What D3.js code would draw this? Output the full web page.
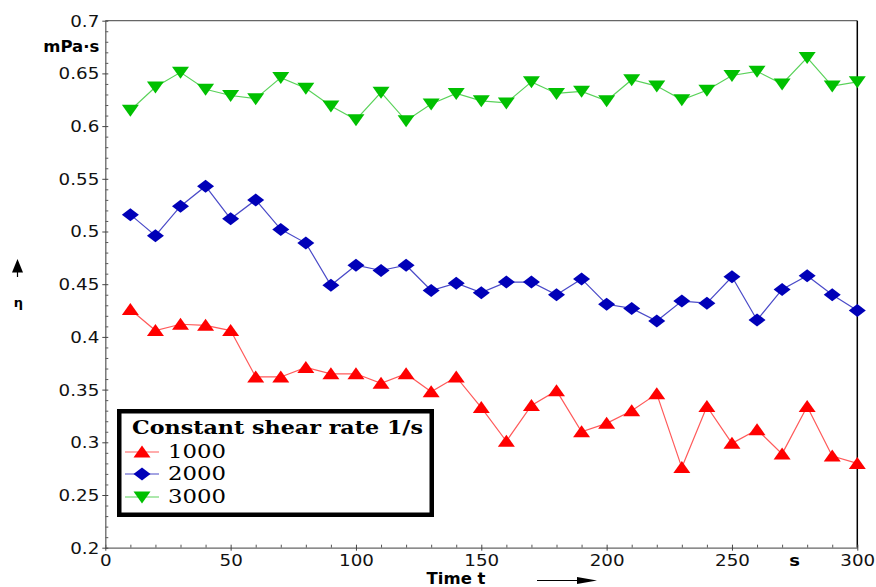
<!DOCTYPE html>
<html>
<head>
<meta charset="utf-8">
<script src="https://cdn.jsdelivr.net/npm/d3@7"></script>
<style>
  body { margin: 0; background: #fff; }
  svg { display: block; }
  .tick text { font-family: "DejaVu Sans", sans-serif; font-size: 15px; fill: #111; }
</style>
</head>
<body>
<div id="chart"></div>
<script>
// time values (s) and viscosity values (mPa·s)
const times = [10, 20, 30, 40, 50, 60, 70, 80, 90, 100, 110, 120, 130, 140, 150,
               160, 170, 180, 190, 200, 210, 220, 230, 240, 250, 260, 270, 280, 290, 300];
const rate1000 = [0.426, 0.406, 0.412, 0.411, 0.406, 0.362, 0.362, 0.371, 0.365, 0.365,
                  0.356, 0.365, 0.348, 0.362, 0.333, 0.301, 0.335, 0.349, 0.310, 0.318,
                  0.330, 0.346, 0.276, 0.334, 0.299, 0.312, 0.289, 0.334, 0.287, 0.280];
const rate2000 = [0.516, 0.496, 0.524, 0.543, 0.512, 0.530, 0.502, 0.489, 0.449, 0.468,
                  0.463, 0.468, 0.444, 0.451, 0.442, 0.452, 0.452, 0.440, 0.455, 0.431,
                  0.427, 0.415, 0.434, 0.432, 0.457, 0.416, 0.445, 0.458, 0.440, 0.425];
const rate3000 = [0.615, 0.637, 0.651, 0.635, 0.629, 0.626, 0.646, 0.636, 0.619, 0.606,
                  0.632, 0.605, 0.621, 0.631, 0.624, 0.622, 0.642, 0.631, 0.633, 0.624,
                  0.644, 0.638, 0.625, 0.634, 0.648, 0.652, 0.640, 0.665, 0.638, 0.642];
const seriesNames = ["1000", "2000", "3000"];
const xTicks = [0, 50, 100, 150, 200, 250, 300];
const yTicks = [0.2, 0.25, 0.3, 0.35, 0.4, 0.45, 0.5, 0.55, 0.6, 0.65, 0.7];
const yTickLabels = ["0.2", "0.25", "0.3", "0.35", "0.4", "0.45", "0.5", "0.55", "0.6", "0.65", "0.7"];

const W = 876, H = 587;
const margin = {top: 20.7, right: 18.7, bottom: 39.3, left: 105.3};

const svg = d3.select("#chart").append("svg")
    .attr("width", W)
    .attr("height", H);

const x = d3.scaleLinear().domain([0, 300]).range([margin.left, W - margin.right]);
const y = d3.scaleLinear().domain([0.2, 0.7]).range([H - margin.bottom, margin.top]);

const stretch = 1.22;

// frame: top grey, right black
svg.append("line")
    .attr("x1", x(0)).attr("x2", x(300))
    .attr("y1", y(0.7)).attr("y2", y(0.7))
    .attr("stroke", "#666").attr("stroke-width", 1.3);
svg.append("line")
    .attr("x1", x(300)).attr("x2", x(300))
    .attr("y1", y(0.7)).attr("y2", y(0.2))
    .attr("stroke", "#000").attr("stroke-width", 1.5);

// minor ticks
const xMinor = d3.range(0, 301, 10).filter(d => d % 50 !== 0);
const yMinor = d3.range(20, 71, 1).map(d => d / 100).filter(d => Math.round(d * 100) % 5 !== 0);

svg.append("g")
    .attr("transform", `translate(0,${y(0.2)})`)
    .call(d3.axisBottom(x).tickValues(xMinor).tickSize(-3).tickFormat(""))
    .call(g => g.select(".domain").remove())
    .selectAll("line").attr("stroke", "#555");

svg.append("g")
    .attr("transform", `translate(${x(0)},0)`)
    .call(d3.axisLeft(y).tickValues(yMinor).tickSize(-3).tickFormat(""))
    .call(g => g.select(".domain").remove())
    .selectAll("line").attr("stroke", "#555");

// major axes
const xAxis = svg.append("g")
    .attr("transform", `translate(0,${y(0.2)})`)
    .call(d3.axisBottom(x).tickValues(xTicks).tickSizeOuter(0));
xAxis.select(".domain").attr("stroke", "#666").attr("stroke-width", 1.3);
xAxis.selectAll(".tick line").attr("y1", -3).attr("y2", 3).attr("stroke", "#444");
xAxis.selectAll(".tick text")
    .attr("y", 18).attr("dy", null)
    .attr("transform", `scale(${stretch},1)`);

const yAxis = svg.append("g")
    .attr("transform", `translate(${x(0)},0)`)
    .call(d3.axisLeft(y).tickValues(yTicks).tickSizeOuter(0)
        .tickFormat((d, i) => yTickLabels[i]));
yAxis.select(".domain").attr("stroke", "#666").attr("stroke-width", 1.3);
yAxis.selectAll(".tick line").attr("x1", -3).attr("x2", 3).attr("stroke", "#444");
yAxis.selectAll(".tick text")
    .attr("x", -6 / stretch).attr("dy", "0.36em")
    .attr("transform", `scale(${stretch},1)`);

// unit labels
svg.append("text")
    .attr("transform", `translate(${x(0) - 6},${y(0.675) + 5}) scale(1.1,1)`)
    .attr("text-anchor", "end")
    .style("font-family", "DejaVu Sans, sans-serif")
    .style("font-size", "15px").style("font-weight", "bold")
    .text("mPa·s");
svg.append("text")
    .attr("transform", `translate(${x(275)},${y(0.2) + 18}) scale(1.2,1)`)
    .attr("text-anchor", "middle")
    .style("font-family", "DejaVu Sans, sans-serif")
    .style("font-size", "15px").style("font-weight", "bold")
    .text("s");

// axis titles with arrows
svg.append("text")
    .attr("transform", `translate(456,584) scale(1.1,1)`)
    .attr("text-anchor", "middle")
    .style("font-family", "DejaVu Sans, sans-serif")
    .style("font-size", "15px").style("font-weight", "bold")
    .text("Time t");
svg.append("line")
    .attr("x1", 537).attr("x2", 580).attr("y1", 580.5).attr("y2", 580.5)
    .attr("stroke", "#000").attr("stroke-width", 1.2);
svg.append("path")
    .attr("d", "M577,577 L597,580.5 L577,584 Z")
    .attr("fill", "#000");

svg.append("text")
    .attr("x", 18.5).attr("y", 307)
    .attr("text-anchor", "middle")
    .style("font-family", "DejaVu Sans, sans-serif")
    .style("font-size", "13px").style("font-weight", "bold")
    .text("η");
svg.append("line")
    .attr("x1", 17.5).attr("x2", 17.5).attr("y1", 270).attr("y2", 277)
    .attr("stroke", "#000").attr("stroke-width", 1.2);
svg.append("path")
    .attr("d", "M17.5,259 L23,272.5 L12,272.5 Z")
    .attr("fill", "#000");

// marker shapes
const triUp = "M0,-6.5 L8.5,5.5 L-8.5,5.5 Z";
const triDown = "M0,6.5 L8.5,-5.5 L-8.5,-5.5 Z";
const diamond = "M0,-6.5 L8.5,0 L0,6.5 L-8.5,0 Z";

const series = [
  {name: seriesNames[0], values: rate1000, line: "#ff5a5a", fill: "#ff0000", shape: triUp},
  {name: seriesNames[1], values: rate2000, line: "#4a4ac8", fill: "#0000b8", shape: diamond},
  {name: seriesNames[2], values: rate3000, line: "#5ad25a", fill: "#00c000", shape: triDown}
];

const line = d3.line()
    .x((d, i) => x(times[i]))
    .y(d => y(d));

series.forEach(s => {
  svg.append("path")
      .datum(s.values)
      .attr("fill", "none")
      .attr("stroke", s.line)
      .attr("stroke-width", 1.2)
      .attr("d", line);
  svg.append("g").selectAll("path")
      .data(s.values)
      .join("path")
      .attr("d", s.shape)
      .attr("transform", (d, i) => `translate(${x(times[i])},${y(d)})`)
      .attr("fill", s.fill);
});

// legend
const legend = svg.append("g");
legend.append("rect")
    .attr("x", 119.25).attr("y", 411.25)
    .attr("width", 312.5).attr("height", 103.5)
    .attr("fill", "#fff")
    .attr("stroke", "#000").attr("stroke-width", 4.5);
legend.append("text")
    .attr("x", 132).attr("y", 434)
    .attr("textLength", 291).attr("lengthAdjust", "spacingAndGlyphs")
    .style("font-family", "DejaVu Serif, serif")
    .style("font-size", "18px").style("font-weight", "bold")
    .text("Constant shear rate 1/s");

const rowY = [452, 474, 497];
series.forEach((s, i) => {
  const g = legend.append("g").attr("transform", `translate(0,${rowY[i]})`);
  g.append("line")
      .attr("x1", 125).attr("x2", 159)
      .attr("stroke", s.line).attr("stroke-width", 1.2);
  g.append("path")
      .attr("d", s.shape)
      .attr("transform", "translate(142,0)")
      .attr("fill", s.fill);
  g.append("text")
      .attr("x", 168).attr("y", 5.5)
      .attr("textLength", 58).attr("lengthAdjust", "spacingAndGlyphs")
      .style("font-family", "DejaVu Serif, serif")
      .style("font-size", "18px")
      .text(s.name);
});
</script>
</body>
</html>
